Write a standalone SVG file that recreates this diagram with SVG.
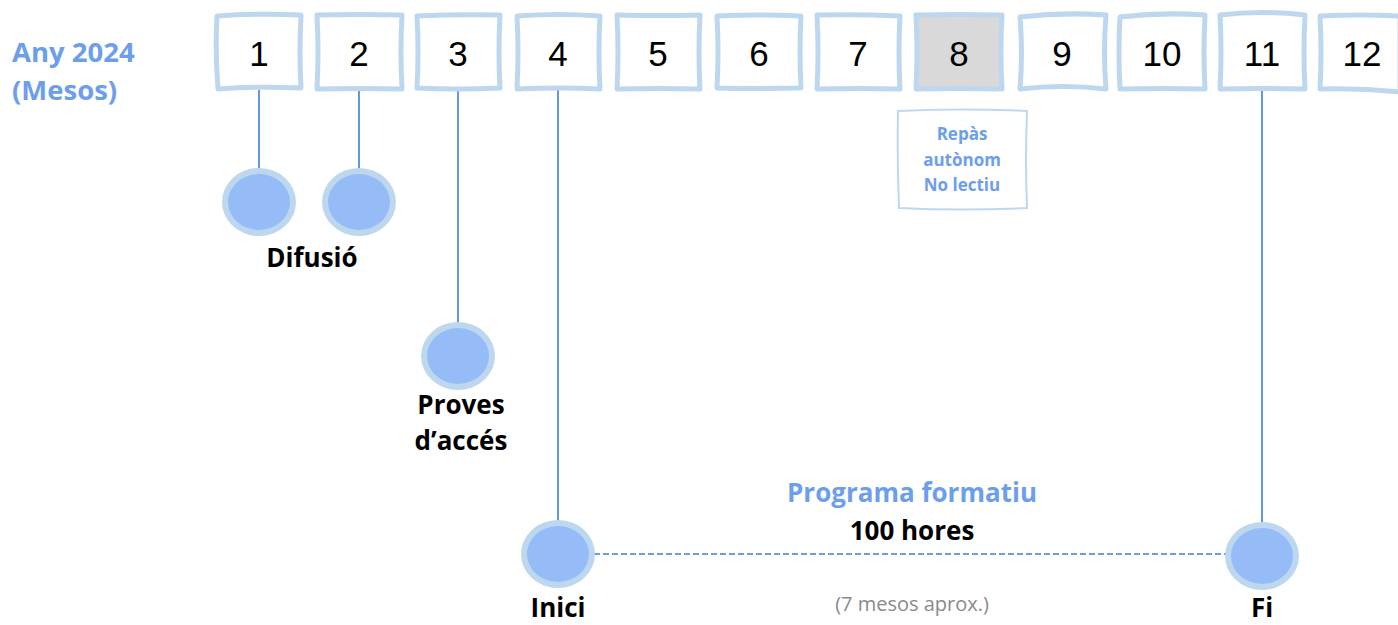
<svg xmlns="http://www.w3.org/2000/svg" width="1398" height="625" viewBox="0 0 1398 625">
<style>
.box{fill:#fff;stroke:#bdd7ee;stroke-width:5;stroke-linejoin:round}
.num{font-family:"Liberation Sans",Arial,sans-serif;font-size:35px;fill:#000;text-anchor:middle}
.lbl{font-family:"Open Sans","Noto Sans",sans-serif;font-weight:bold;font-size:26px;fill:#000;text-anchor:middle}
.os{font-family:"Open Sans","Noto Sans",sans-serif;font-weight:bold}
.blue{fill:#6d9eeb}
.vline{stroke:#3b7de0;stroke-width:1.6}
.outer{fill:#bdd7ee}
.inner{fill:#95bcf7}
</style>
<defs>
<g id="dot"><ellipse class="outer" rx="37" ry="34"/><ellipse class="inner" rx="31" ry="28"/></g>
</defs>
<rect width="1398" height="625" fill="#fff"/>
<g id="title">
<text x="12" y="62" font-size="27.5" class="os blue">Any 2024</text>
<text x="12" y="100" font-size="27.5" class="os blue">(Mesos)</text>
</g>
<g id="connectors">
<line class="vline" x1="259" y1="90" x2="259" y2="170"/>
<line class="vline" x1="359" y1="90" x2="359" y2="170"/>
<line class="vline" x1="458" y1="90" x2="458" y2="323"/>
<line class="vline" x1="558" y1="90" x2="558" y2="522"/>
<line class="vline" x1="1262" y1="90" x2="1262" y2="523"/>
<line x1="594" y1="554" x2="1228" y2="554" stroke="#3b7de0" stroke-width="1.5" stroke-dasharray="6,3"/>
</g>
<g id="m1"><path class="box" d="M217 16 Q260 13 301 15 Q299 52 301 88 Q260 86 218 89 Q215 52 217 16Z"/><text class="num" x="259" y="66">1</text></g>
<g id="m2"><path class="box" d="M317 15 Q360 14 402 15 Q400 52 402 89 Q360 88 317 89 Q319 52 317 15Z"/><text class="num" x="359" y="66">2</text></g>
<g id="m3"><path class="box" d="M417 16 Q458 14 500 15 Q498 52 500 88 Q458 90 417 88 Q419 52 417 16Z"/><text class="num" x="458" y="66">3</text></g>
<g id="m4"><path class="box" d="M517 16 Q558 13 600 16 Q598 52 600 89 Q558 87 517 89 Q519 52 517 16Z"/><text class="num" x="558" y="66">4</text></g>
<g id="m5"><path class="box" d="M617 15 Q658 16 700 15 Q698 52 700 89 Q658 88 617 89 Q619 52 617 15Z"/><text class="num" x="658" y="66">5</text></g>
<g id="m6"><path class="box" d="M717 16 Q759 14 801 16 Q799 52 801 88 Q759 89 717 88 Q719 52 717 16Z"/><text class="num" x="759" y="66">6</text></g>
<g id="m7"><path class="box" d="M817 15 Q858 14 900 16 Q898 52 900 89 Q858 88 817 89 Q819 52 817 15Z"/><text class="num" x="858" y="66">7</text></g>
<g id="m8"><path class="box" style="fill:#d9d9d9" d="M916 15 Q959 14 1002 15 Q1000 52 1002 89 Q959 88 916 89 Q918 52 916 15Z"/><text class="num" x="959" y="66">8</text></g>
<g id="m9"><path class="box" d="M1020 17 Q1062 12 1106 15 Q1103 52 1106 89 Q1062 84 1020 89 Q1023 52 1020 17Z"/><text class="num" x="1062" y="66">9</text></g>
<g id="m10"><path class="box" d="M1120 17 Q1162 12 1205 15 Q1203 52 1205 89 Q1162 88 1120 89 Q1118 52 1120 17Z"/><text class="num" x="1162" y="66">10</text></g>
<g id="m11"><path class="box" d="M1220 15 Q1262 10 1305 15 Q1303 52 1305 89 Q1262 88 1220 89 Q1222 52 1220 15Z"/><text class="num" x="1262" y="66">11</text></g>
<g id="m12"><path class="box" d="M1320 16 Q1360 14 1400 16 L1400 92 Q1360 88 1320 89 Q1322 52 1320 16Z"/><text class="num" x="1362" y="66">12</text></g>
<g id="repas">
<path d="M898 111 Q962 108 1027 111 Q1025 160 1027 208 Q962 211 899 208 Q897 160 898 111Z" fill="#fff" stroke="#bdd7ee" stroke-width="2"/>
<text x="962" y="140" font-size="17" text-anchor="middle" class="os blue">Repàs</text>
<text x="962" y="166" font-size="17" text-anchor="middle" class="os blue">autònom</text>
<text x="962" y="191" font-size="17" text-anchor="middle" class="os blue">No lectiu</text>
</g>
<g id="difusio">
<use href="#dot" x="259" y="202"/>
<use href="#dot" x="359" y="202"/>
<text class="lbl" x="312" y="267">Difusió</text>
</g>
<g id="proves">
<use href="#dot" x="458" y="356"/>
<text class="lbl" x="461" y="414">Proves</text>
<text class="lbl" x="461" y="450">d’accés</text>
</g>
<g id="inici">
<use href="#dot" x="558" y="554"/>
<text class="lbl" x="558" y="617">Inici</text>
</g>
<g id="fi">
<use href="#dot" x="1262" y="556"/>
<text class="lbl" x="1262" y="617">Fi</text>
</g>
<g id="programa">
<text x="912" y="502" font-size="26" text-anchor="middle" class="os blue">Programa formatiu</text>
<text class="lbl" x="912" y="540">100 hores</text>
<text x="912" y="611" font-family="'Open Sans','Noto Sans',sans-serif" font-size="20" text-anchor="middle" fill="#8a8a8a">(7 mesos aprox.)</text>
</g>
</svg>
